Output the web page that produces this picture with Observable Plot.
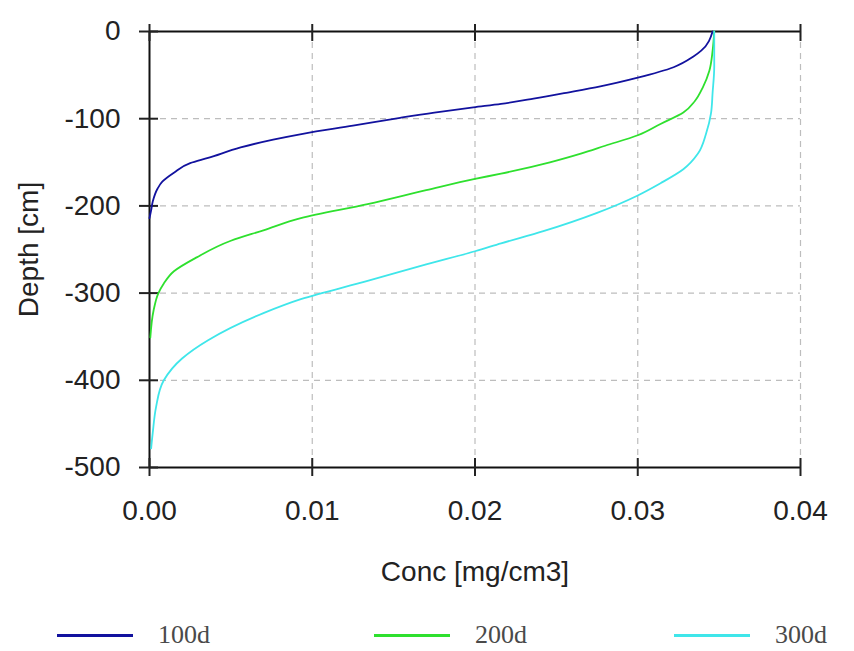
<!DOCTYPE html>
<html>
<head>
<meta charset="utf-8">
<script src="https://cdn.jsdelivr.net/npm/d3@7"></script>
<script src="https://cdn.jsdelivr.net/npm/@observablehq/plot@0.6"></script>
<style>
  html, body { margin: 0; padding: 0; background: #fff; }
  #wrap { position: relative; width: 854px; height: 651px; overflow: hidden; }
  #legend { position: absolute; left: 0; top: 618px; width: 854px; height: 34px; font-family: "Liberation Serif", serif; font-size: 26px; color: #4a4a4a; }
  .item { position: absolute; top: 0; display: flex; align-items: center; height: 34px; }
  .sw { width: 76px; height: 3px; margin-right: 25px; }
</style>
</head>
<body>
<div id="wrap">
  <div id="chart"></div>
  <div id="legend"></div>
</div>
<script>
// Series names and colours
const seriesNames = ["100d", "200d", "300d"];
const seriesColors = ["#12129e", "#2ee02e", "#3fe6ea"];

// 100 days: concentration (mg/cm3) and depth (cm)
const conc100 = [0.0346, 0.0339, 0.0334, 0.0322, 0.0300, 0.0277, 0.0257, 0.0236, 0.0216, 0.0199, 0.0175, 0.0154, 0.0125, 0.0095, 0.0076, 0.0056, 0.0036, 0.0025, 0.0015, 0.0008, 0.0005, 0.0002, 0.0001, 0.0000];
const depth100 = [0, -22, -29, -41, -53, -63, -70, -77, -83, -87, -93, -99, -108, -117, -124, -133, -145, -151, -162, -172, -180, -195, -205, -214];

// 200 days
const conc200 = [0.0347, 0.0346, 0.0344, 0.0340, 0.0335, 0.0328, 0.0314, 0.0300, 0.0280, 0.0265, 0.0246, 0.0216, 0.0200, 0.0170, 0.0134, 0.0093, 0.0070, 0.0050, 0.0029, 0.0015, 0.00088, 0.00055, 0.00025, 0.00005];
const depth200 = [0, -22, -45, -64, -80, -93, -106, -119, -131, -140, -150, -163, -169, -182, -198, -214, -228, -240, -259, -275, -289, -300, -320, -351];

// 300 days
const conc300 = [0.0347, 0.0347, 0.0346, 0.0345, 0.0342, 0.0337, 0.0328, 0.0314, 0.0300, 0.0275, 0.0242, 0.0216, 0.0200, 0.0170, 0.0134, 0.0093, 0.0070, 0.0036, 0.0020, 0.00088, 0.0004, 0.0002, 0.0001];
const depth300 = [0, -40, -70, -94, -117, -140, -158, -174, -188, -208, -229, -243, -252, -267, -286, -307, -323, -354, -375, -400, -431, -460, -478];

// Tick values
const xTicks = [0, 0.01, 0.02, 0.03, 0.04];
const yTicks = [0, -100, -200, -300, -400, -500];
const xLabel = "Conc [mg/cm3]";
const yLabel = "Depth [cm]";

const rows = [];
[[conc100, depth100], [conc200, depth200], [conc300, depth300]].forEach(([c, d], i) => {
  c.forEach((v, j) => rows.push({series: seriesNames[i], conc: v, depth: d[j]}));
});

const font = "'Liberation Sans', Arial, sans-serif";
const chart = Plot.plot({
  width: 854,
  height: 600,
  marginLeft: 149,
  marginRight: 54,
  marginTop: 31,
  marginBottom: 133,
  style: {fontFamily: font, fontSize: "28px", color: "#222", background: "#fff"},
  x: {domain: [0, 0.04]},
  y: {domain: [-500, 0]},
  color: {domain: seriesNames, range: seriesColors},
  marks: [
    Plot.gridX(xTicks.filter(d => d > 0), {stroke: "#bdbdbd", strokeOpacity: 1, strokeWidth: 1.2, strokeDasharray: "6,5"}),
    Plot.gridY(yTicks.filter(d => d > -500 && d < 0), {stroke: "#bdbdbd", strokeOpacity: 1, strokeWidth: 1.2, strokeDasharray: "6,5"}),
    Plot.ruleY([0, -500], {stroke: "#111", strokeWidth: 2}),
    Plot.ruleX([0], {stroke: "#111", strokeWidth: 2}),
    Plot.axisX(xTicks, {anchor: "bottom", tickSize: 9, tickPadding: 24, strokeWidth: 2, tickFormat: d3.format(".2f"), fontSize: 28, label: xLabel, labelAnchor: "center", labelArrow: "none", labelOffset: 113}),
    Plot.axisX(xTicks, {anchor: "bottom", tickSize: -9, strokeWidth: 2, tickFormat: () => "", label: null}),
    Plot.axisX(xTicks, {anchor: "top", tickSize: 8, strokeWidth: 2, tickFormat: () => "", label: null}),
    Plot.axisX(xTicks, {anchor: "top", tickSize: -9, strokeWidth: 2, tickFormat: () => "", label: null}),
    Plot.axisY(yTicks, {anchor: "left", tickSize: 10, tickPadding: 19, strokeWidth: 2, tickFormat: d => String(d), fontSize: 28, label: yLabel, labelAnchor: "center", labelArrow: "none", labelOffset: 131}),
    Plot.axisY(yTicks, {anchor: "left", tickSize: -9, strokeWidth: 2, tickFormat: () => "", label: null}),
    Plot.line(rows, {x: "conc", y: "depth", z: "series", stroke: "series", strokeWidth: 1.8, curve: "monotone-y"})
  ]
});
document.getElementById("chart").appendChild(chart);

// Legend
const legend = document.getElementById("legend");
const swLeft = [57, 374, 674];
seriesNames.forEach((name, i) => {
  const item = document.createElement("div");
  item.className = "item";
  item.style.left = swLeft[i] + "px";
  const sw = document.createElement("div");
  sw.className = "sw";
  sw.style.background = seriesColors[i];
  const tx = document.createElement("span");
  tx.textContent = name;
  item.appendChild(sw);
  item.appendChild(tx);
  legend.appendChild(item);
});
</script>
</body>
</html>
